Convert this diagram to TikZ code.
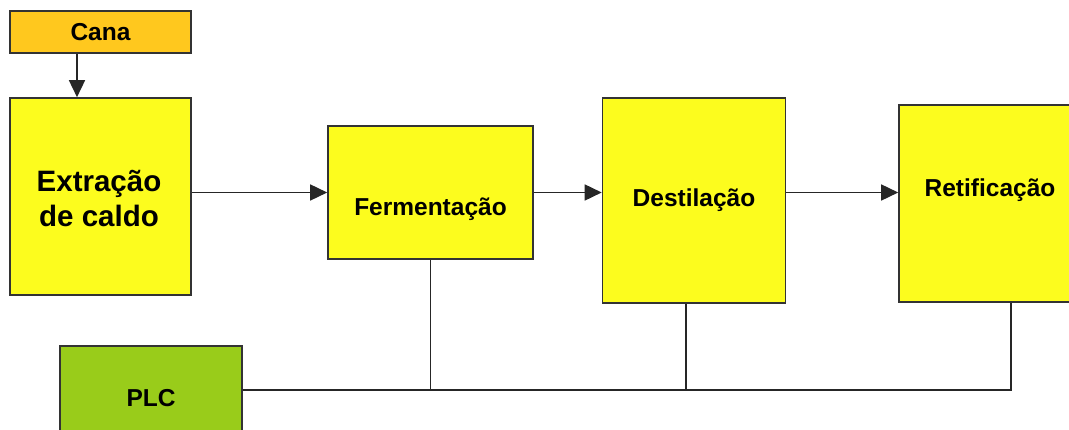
\documentclass[tikz,border=0pt]{standalone}
\usepackage{fontspec}
\setmainfont{Liberation Sans}
\usetikzlibrary{arrows.meta}
\definecolor{boxyellow}{HTML}{FCFC1E}
\definecolor{canaorange}{HTML}{FFC81E}
\definecolor{plcgreen}{HTML}{99CC1A}
\definecolor{edgegray}{HTML}{333333}

\begin{document}
\begin{tikzpicture}[x=1pt,y=-1pt,
  block/.style={draw=edgegray,line width=1.6pt,fill=boxyellow,inner sep=0pt},
  label text/.style={font=\bfseries\fontsize{24.5}{29}\selectfont,inner sep=0pt},
  wire/.style={line width=1.6pt,draw=black!85},
  flow/.style={wire,-{Triangle[length=17pt,width=16pt]}}]

  % Frame of the picture
  \useasboundingbox (0,0) rectangle (1069,430);
  \clip (0,0) rectangle (1069,430);

  % Input
  \node[block,fill=canaorange,minimum width=181,minimum height=42,label text] (cana) at (100.5,32) {Cana};

  % Process blocks
  \node[block,minimum width=181,minimum height=197] (extr) at (100.5,196.5) {};
  \node[font=\bfseries\fontsize{29.5}{35}\selectfont,align=center,inner sep=0pt] (extrtxt) at (99,199) {Extração\\de caldo};

  \node[block,minimum width=205,minimum height=133] (ferm) at (430.5,192.5) {};
  \node[label text] (fermtxt) at (430.5,209) {Fermentação};

  \node[block,minimum width=183,minimum height=205,label text] (dest) at (694,200.5) {Destilação};

  \node[block,minimum width=183,minimum height=197] (reti) at (990.5,203.5) {};
  \node[label text] (retitxt) at (990,190) {Retificação};

  % Controller
  \node[block,fill=plcgreen,minimum width=182,minimum height=104,label text] (plc) at (151,398) {PLC};

  % Material flow
  \draw[flow] ([xshift=-23.5pt]cana.south) -- ([xshift=-23.5pt]extr.north);
  \draw[flow] (ferm.west -| extr.east) -- (ferm.west);
  \draw[flow] (ferm.east) -- (ferm.east -| dest.west);
  \draw[flow] (ferm.east -| dest.east) -- (ferm.east -| reti.west);

  % Control bus
  \coordinate (bus) at (0,390);
  \coordinate (retidrop) at ([xshift=20.5pt]reti.south);
  \coordinate (destdrop) at ([xshift=-8pt]dest.south);
  \draw[wire] (plc.east |- bus) -- (retidrop |- bus) -- (retidrop);
  \draw[wire] (ferm.south) -- (ferm.south |- bus);
  \draw[wire] (destdrop) -- (destdrop |- bus);

\end{tikzpicture}
\end{document}
